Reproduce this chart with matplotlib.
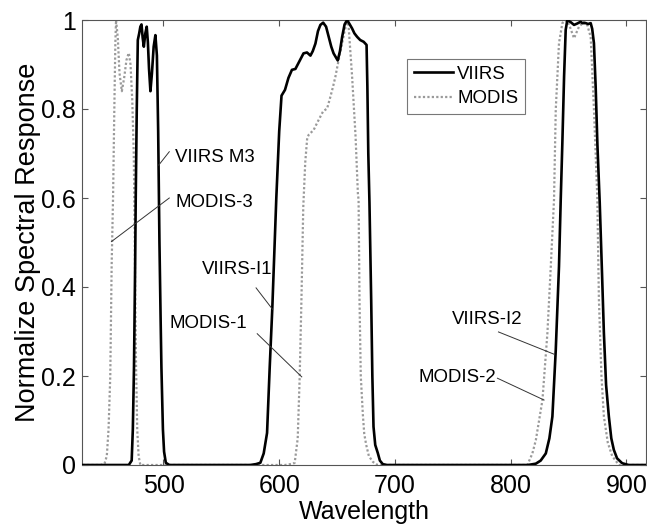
import numpy as np
import matplotlib
matplotlib.use("Agg")
import matplotlib.pyplot as plt

plt.rcParams['font.family'] = ['Liberation Sans', 'DejaVu Sans']

# ---- VIIRS (black) bands ----
viirs_m3_wl = [430, 470, 472.5, 473.5, 474.5, 475.5, 476.0, 476.9, 477.8, 479.0, 480.0, 481.0, 482.0, 483.0,
               484.3, 485.5, 486.5, 487.5, 488.7, 490.0, 491.5, 493.0, 494.3, 495.4, 496.5, 497.5, 498.2,
               499.5, 500.5, 502.0, 505.0]
viirs_m3_resp = [0, 0, 0.01, 0.08, 0.22, 0.45, 0.60, 0.80, 0.955, 0.97, 0.985, 0.99, 0.96, 0.94,
                 0.97, 0.985, 0.95, 0.89, 0.84, 0.88, 0.94, 0.966, 0.92, 0.75, 0.50, 0.33, 0.22,
                 0.08, 0.03, 0.005, 0]

viirs_i1_wl = [575, 580, 583.7, 586.6, 589.5, 591.8, 594.0, 597.5, 600.0, 602.0, 605.0, 608.0, 611.0, 614.0,
               617.0, 621.0, 624.0, 627.0, 629.0, 631.3, 633.5, 635.6, 638.0, 640.5, 642.8, 645.0, 647.0,
               650.6, 652.5, 654.4, 656.5, 658.7, 661.0, 663.0, 665.0, 667.4, 670.0, 673.0, 675.5, 676.2,
               677.0, 678.0, 679.5, 680.5, 681.5, 683.0, 685.2, 687.0, 689.5, 693.0]
viirs_i1_resp = [0, 0.002, 0.005, 0.026, 0.072, 0.22, 0.35, 0.60, 0.75, 0.83, 0.843, 0.87, 0.888, 0.89,
                 0.905, 0.925, 0.927, 0.92, 0.93, 0.947, 0.975, 0.989, 0.994, 0.985, 0.962, 0.94, 0.925,
                 0.909, 0.93, 0.962, 0.99, 1.0, 0.99, 0.981, 0.97, 0.962, 0.955, 0.951, 0.944, 0.85,
                 0.70, 0.59, 0.37, 0.20, 0.086, 0.045, 0.027, 0.01, 0.002, 0]

viirs_i2_wl = [815, 821.8, 826.0, 830.4, 833.5, 836.1, 839.0, 841.8, 843.3, 844.7, 846.2, 847.6, 849.0,
               852.0, 854.8, 857.5, 860.5, 862.0, 864.9, 867.0, 869.2, 870.5, 872.0, 873.5, 875.0, 877.0,
               879.0, 880.6, 882.5, 884.9, 887.0, 889.2, 892.0, 896.4, 902.0, 917]
viirs_i2_resp = [0, 0.003, 0.01, 0.026, 0.06, 0.109, 0.258, 0.446, 0.596, 0.723, 0.873, 0.978, 1.0,
                 0.995, 0.989, 0.992, 0.996, 0.993, 0.993, 0.991, 0.993, 0.98, 0.948, 0.85, 0.72, 0.59,
                 0.43, 0.297, 0.18, 0.109, 0.06, 0.034, 0.015, 0.004, 0, 0]

# ---- MODIS (gray dotted) bands ----
modis_3_wl = [430, 446, 449.0, 451.0, 452.5, 454.0, 455.2, 456.4, 457.5, 458.4, 459.0, 460.5, 462.0, 464.0,
              466.0, 468.0, 470.0, 471.5, 473.0, 474.3, 475.0, 475.7, 476.3, 477.3, 478.5, 480.0]
modis_3_resp = [0, 0, 0.003, 0.02, 0.08, 0.20, 0.45, 0.60, 0.80, 0.95, 1.0, 0.96, 0.88, 0.84,
                0.87, 0.91, 0.926, 0.90, 0.82, 0.70, 0.55, 0.35, 0.22, 0.08, 0.02, 0]

modis_1_wl = [605, 612.0, 613.4, 616.0, 617.7, 619.2, 620.8, 622.5, 624.2, 625.5, 629.8, 633.0, 635.6,
              638.0, 641.4, 644.3, 646.5, 648.6, 650.6, 652.5, 654.4, 656.5, 658.7, 659.6, 663.0, 666.0,
              668.0, 668.6, 669.4, 670.5, 672.3, 673.5, 675.2, 677.5, 681.0, 685.0]
modis_1_resp = [0, 0.003, 0.005, 0.06, 0.198, 0.37, 0.58, 0.68, 0.735, 0.742, 0.753, 0.77, 0.783,
                0.795, 0.801, 0.828, 0.85, 0.873, 0.90, 0.925, 0.948, 0.975, 0.996, 1.0, 0.873, 0.738,
                0.61, 0.596, 0.371, 0.20, 0.113, 0.07, 0.045, 0.02, 0.007, 0]

modis_2_wl = [810, 814.5, 818.8, 821.8, 827.5, 831.8, 834.7, 837.5, 839.0, 841.8, 844.7, 847.6, 850.5,
              854.8, 859.1, 863.4, 866.2, 869.2, 872.0, 874.9, 876.3, 878.5, 880.6, 884.0, 887.8, 893.6, 917]
modis_2_resp = [0, 0, 0.026, 0.056, 0.146, 0.297, 0.446, 0.596, 0.798, 0.948, 0.993, 1.0, 0.99,
                0.959, 0.985, 0.996, 0.989, 0.962, 0.80, 0.603, 0.371, 0.20, 0.109, 0.05, 0.02, 0, 0]

# ---- annotations: (text, text x, text y, ha, leader start, leader end) ----
ann_texts = ['VIIRS M3', 'MODIS-3', 'VIIRS-I1', 'MODIS-1', 'VIIRS-I2', 'MODIS-2']
ann_text_x = [510, 510, 593.8, 505, 749.6, 787.5]
ann_text_y = [0.692, 0.589, 0.440, 0.318, 0.326, 0.196]
ann_ha = ['left', 'left', 'right', 'left', 'left', 'right']
ann_line_x0 = [505.0, 505.0, 580.0, 581.0, 789.5, 788.6]
ann_line_y0 = [0.704, 0.600, 0.398, 0.295, 0.299, 0.195]
ann_line_x1 = [495.9, 455.0, 594.2, 619.5, 837.5, 828.9]
ann_line_y1 = [0.674, 0.502, 0.350, 0.198, 0.249, 0.146]

xticks = [500, 600, 700, 800, 900]
yticks = [0, 0.2, 0.4, 0.6, 0.8, 1]
ytick_labels = ['0', '0.2', '0.4', '0.6', '0.8', '1']

fig = plt.figure(figsize=(6.47, 5.29), dpi=100)
ax = fig.add_axes([82.5 / 647, 1 - 465 / 529, (646 - 82.5) / 647, 445 / 529])

viirs_wl = viirs_m3_wl + viirs_i1_wl + viirs_i2_wl
viirs_resp = viirs_m3_resp + viirs_i1_resp + viirs_i2_resp
modis_wl = modis_3_wl + modis_1_wl + modis_2_wl
modis_resp = modis_3_resp + modis_1_resp + modis_2_resp

ax.plot(modis_wl, modis_resp, color='#9a9a9a', linestyle=(0, (1, 1)), lw=1.6, label='MODIS', zorder=2)
ax.plot(viirs_wl, viirs_resp, color='black', lw=1.9, label='VIIRS', zorder=3)

ax.set_xlim(430, 917)
ax.set_ylim(0, 1)
ax.set_xticks(xticks)
ax.set_yticks(yticks)
ax.set_yticklabels(ytick_labels)
ax.tick_params(direction='in', length=4, width=0.8, color='#555555', labelsize=18,
               top=True, right=True)
ax.tick_params(axis='x', pad=6.8)
ax.tick_params(axis='y', pad=4.5)
for s in ax.spines.values():
    s.set_color('#555555')
    s.set_linewidth(0.8)
ax.set_xlabel('Wavelength', fontsize=18, labelpad=1)
ax.set_ylabel('Normalize Spectral Response', fontsize=19.5, labelpad=0)

for t, tx, ty, ha, x0, y0, x1, y1 in zip(ann_texts, ann_text_x, ann_text_y, ann_ha,
                                          ann_line_x0, ann_line_y0, ann_line_x1, ann_line_y1):
    ax.plot([x0, x1], [y0, y1], color='#333333', lw=0.7, zorder=4)
    ax.text(tx, ty, t, ha=ha, va='center', fontsize=13.4, zorder=5)

handles, labels = ax.get_legend_handles_labels()
order = [1, 0]
leg = ax.legend([handles[i] for i in order], [labels[i] for i in order],
                loc='upper left', bbox_to_anchor=((407 - 82.5) / 563.5, 1 - (59 - 20) / 445),
                borderaxespad=0, fontsize=13.4, handlelength=2.1, handletextpad=0.25,
                labelspacing=0.42, borderpad=0.35, fancybox=False, framealpha=1)
leg.get_frame().set_edgecolor('#777777')
leg.get_frame().set_linewidth(0.8)

fig.savefig('out.png', dpi=100)
